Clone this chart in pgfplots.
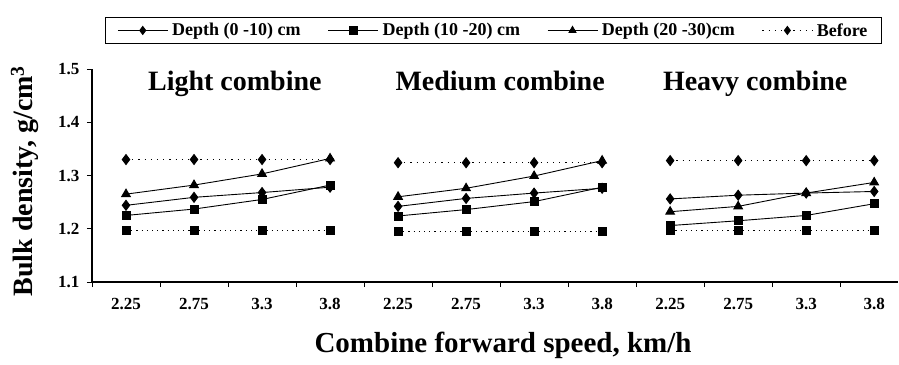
\documentclass[border=0pt]{standalone}
\usepackage{fontspec}
\setmainfont{Liberation Serif}
\usepackage{pgfplots}
\pgfplotsset{compat=1.18}
\begin{document}
\begin{tikzpicture}
\begin{axis}[
  at={(0,0)}, anchor=south west,
  scale only axis, width=806pt, height=213pt,
  xmin=-0.5, xmax=11.35, ymin=1.1, ymax=1.5,
  axis lines=left, axis line style={-, line width=1.2pt},
  tick align=outside, major tick length=5pt,
  tick style={black, line width=0.8pt},
  xtick={-0.5,0.5,...,10.5}, xticklabels={},
  extra x ticks={0,1,2,3,4,5,6,7,8,9,10,11},
  extra x tick labels={2.25,2.75,3.3,3.8,2.25,2.75,3.3,3.8,2.25,2.75,3.3,3.8},
  extra x tick style={major tick length=0pt},
  ytick={1.1,1.2,1.3,1.4,1.5},
  yticklabels={1.1,1.2,1.3,1.4,1.5},
  tick label style={font=\bfseries\fontsize{17}{17}\selectfont},
  xticklabel style={yshift=-13pt},
  yticklabel style={xshift=-4pt},
  xlabel={Combine forward speed, km/h},
  xlabel style={at={(axis description cs:0.51,-0.296)}, anchor=center, font=\bfseries\fontsize{29}{29}\selectfont},
  ylabel={Bulk density, g/cm\textsuperscript{3}},
  ylabel style={at={(axis description cs:-0.0831,0.474)}, anchor=center, font=\bfseries\fontsize{28}{28}\selectfont},
  unbounded coords=jump,
  clip=false,
  legend columns=4,
  legend style={at={(axis description cs:0.498,1.181)}, anchor=center, draw=black, line width=1.2pt,
    font=\bfseries\fontsize{18}{18}\selectfont, inner xsep=12pt, inner ysep=4pt,
    /tikz/every even column/.append style={column sep=25pt},
    /tikz/every odd column/.append style={column sep=2pt}},
  legend image code/.code={\draw[mark repeat=2, mark phase=2, mark size=4pt] plot coordinates {(0pt,0pt) (25pt,0pt) (50pt,0pt)};},
]
\addplot[black, line width=0.9pt, mark=diamond*, mark size=5pt, mark options={solid, fill=black}]
 coordinates {(0,1.244)(1,1.259)(2,1.268)(3,1.278)(3.5,nan)(4,1.242)(5,1.257)(6,1.267)(7,1.276)(7.5,nan)(8,1.256)(9,1.263)(10,1.267)(11,1.270)};
\addlegendentry{Depth (0 -10) cm}
\addplot[black, line width=0.9pt, mark=square*, mark size=4pt, mark options={solid, fill=black}]
 coordinates {(0,1.225)(1,1.237)(2,1.255)(3,1.282)(3.5,nan)(4,1.224)(5,1.236)(6,1.251)(7,1.278)(7.5,nan)(8,1.206)(9,1.215)(10,1.225)(11,1.247)};
\addlegendentry{Depth (10 -20) cm}
\addplot[black, line width=0.9pt, mark=triangle*, mark size=5pt, mark options={solid, fill=black}]
 coordinates {(0,1.265)(1,1.282)(2,1.303)(3,1.332)(3.5,nan)(4,1.260)(5,1.276)(6,1.299)(7,1.328)(7.5,nan)(8,1.232)(9,1.242)(10,1.267)(11,1.287)};
\addlegendentry{Depth (20 -30)cm}
\addplot[black, line width=0.9pt, dash pattern=on 1.2pt off 5pt, mark=diamond*, mark size=5pt, mark options={solid, fill=black}]
 coordinates {(0,1.330)(1,1.330)(2,1.330)(3,1.330)(3.5,nan)(4,1.324)(5,1.324)(6,1.324)(7,1.324)(7.5,nan)(8,1.328)(9,1.328)(10,1.328)(11,1.328)};
\addlegendentry{Before}
\addplot[forget plot, black, line width=0.9pt, dash pattern=on 1.2pt off 4pt, mark=square*, mark size=4pt, mark options={solid, fill=black}]
 coordinates {(0,1.197)(1,1.197)(2,1.197)(3,1.197)(3.5,nan)(4,1.194)(5,1.194)(6,1.194)(7,1.194)(7.5,nan)(8,1.197)(9,1.197)(10,1.197)(11,1.197)};
\node[anchor=base, font=\bfseries\fontsize{28}{28}\selectfont] at (axis cs:1.6,1.459) {Light combine};
\node[anchor=base, font=\bfseries\fontsize{28}{28}\selectfont] at (axis cs:5.5,1.459) {Medium combine};
\node[anchor=base, font=\bfseries\fontsize{28}{28}\selectfont] at (axis cs:9.25,1.459) {Heavy combine};
\end{axis}
\pgfresetboundingbox
\path[use as bounding box] (-92pt,-82pt) rectangle (807pt,282pt);
\end{tikzpicture}
\end{document}
